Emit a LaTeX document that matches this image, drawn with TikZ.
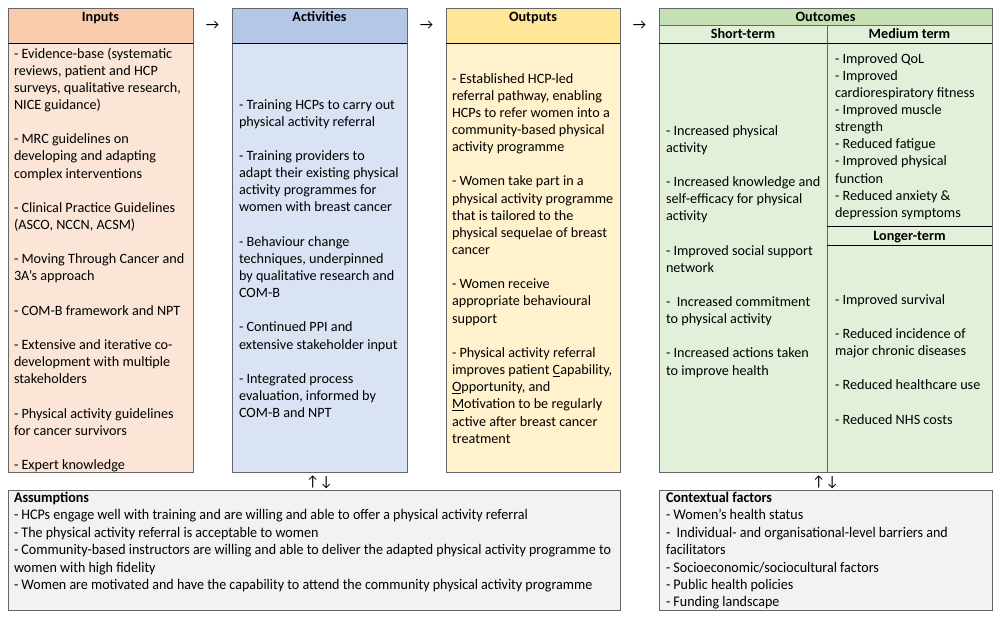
\documentclass[tikz,border=0pt]{standalone}
\usepackage{fontspec}
\setmainfont{Carlito}
\newfontfamily\narrowfont[FakeStretch=0.955]{Carlito}
\usetikzlibrary{positioning}

\definecolor{inhead}{HTML}{F8CBAD}
\definecolor{inbody}{HTML}{FBE5D6}
\definecolor{acthead}{HTML}{B4C7E7}
\definecolor{actbody}{HTML}{DAE3F3}
\definecolor{outhead}{HTML}{FFE699}
\definecolor{outbody}{HTML}{FFF2CC}
\definecolor{ochead}{HTML}{C5E0B4}
\definecolor{ocbody}{HTML}{E2F0D9}
\definecolor{assume}{HTML}{F2F2F2}
\definecolor{boxline}{HTML}{666666}

\newcommand{\gap}{\\[\baselineskip]}

\begin{document}
\begin{tikzpicture}[%
        x=1pt, y=-1pt,
        every node/.style={inner sep=0pt, outer sep=0pt},
        cell/.style={rectangle, draw=boxline, line width=0.8pt, anchor=north west},
        divider/.style={draw=black, line width=0.8pt},
        headtext/.style={anchor=base, font=\bfseries\fontsize{14.2}{17.15}\selectfont},
        bodytext/.style={anchor=north west, align=left, font=\fontsize{14.2}{17.15}\selectfont},
        notetext/.style={anchor=north west, align=left, font=\narrowfont\fontsize{14.7}{17.45}\selectfont},
        sign/.style={anchor=base, font=\fontsize{14.7}{17.15}\selectfont}
      ]
      \useasboundingbox (0,0) rectangle (1000,619);
      % column boxes
      \node [cell, fill=inhead, minimum width=185pt, minimum height=35pt] (inhd) at (8,8) {};
      \node [cell, fill=inbody, minimum width=185pt, minimum height=429pt, below=0pt of inhd] (inbd) {};
      \node [cell, fill=acthead, minimum width=175pt, minimum height=35pt] (acthd) at (232,8) {};
      \node [cell, fill=actbody, minimum width=175pt, minimum height=429pt, below=0pt of acthd] (actbd) {};
      \node [cell, fill=outhead, minimum width=174pt, minimum height=35pt] (outhd) at (446,8) {};
      \node [cell, fill=outbody, minimum width=174pt, minimum height=429pt, below=0pt of outhd] (outbd) {};
      % outcomes table
      \node [cell, fill=ochead, minimum width=333pt, minimum height=17pt] (ochd) at (659,8) {};
      \node [cell, fill=ocbody, minimum width=168pt, minimum height=18pt] (shorthd) at (659,25) {};
      \node [cell, fill=ocbody, minimum width=165pt, minimum height=18pt] (medhd) at (827,25) {};
      \node [cell, fill=ocbody, minimum width=168pt, minimum height=429pt] (shortbd) at (659,43) {};
      \node [cell, fill=ocbody, minimum width=165pt, minimum height=183pt] (medbd) at (827,43) {};
      \node [cell, fill=ocbody, minimum width=165pt, minimum height=19pt] (longhd) at (827,226) {};
      \node [cell, fill=ocbody, minimum width=165pt, minimum height=227pt] (longbd) at (827,245) {};
      % bottom boxes
      \node [cell, fill=assume, minimum width=612pt, minimum height=120pt] (assm) at (8,490) {};
      \node [cell, fill=assume, minimum width=333pt, minimum height=120pt] (ctx) at (659,490) {};
      \path [divider] (inhd.south west) -- (inhd.south east)
      (acthd.south west) -- (acthd.south east)
      (outhd.south west) -- (outhd.south east)
      (shorthd.south west) -- (medhd.south east)
      (longhd.north west) -- (longhd.north east)
      (longhd.south west) -- (longhd.south east);

      % headings
      \node [headtext] (intitle) at (100.5,21) {Inputs};
      \node [headtext] (acttitle) at (319.5,21) {Activities};
      \node [headtext] (outtitle) at (533,21) {Outputs};
      \node [headtext] (octitle) at (825.5,21) {Outcomes};
      \node [headtext] (shorttitle) at (743,38.5) {Short-term};
      \node [headtext] (medtitle) at (909.5,38.5) {Medium term};
      \node [headtext] (longtitle) at (909.5,240.5) {Longer-term};

      % arrows between columns
      \node [sign] (arr1) at (212.5,29) {→};
      \node [sign] (arr2) at (426.5,29) {→};
      \node [sign] (arr3) at (639.5,29) {→};
      \node [sign] (ud1) at (319.5,486) {↑↓};
      \node [sign] (ud2) at (825.5,486) {↑↓};

      % column texts
      \node [bodytext] (inlist) at (14,46) {\strut- Evidence-base (systematic\\
        reviews, patient and HCP\\
        surveys, qualitative research,\\
        NICE guidance)\gap
        - MRC guidelines on\\
        developing and adapting\\
        complex interventions\gap
        - Clinical Practice Guidelines\\
        (ASCO, NCCN, ACSM)\gap
        - Moving Through Cancer and\\
        3A’s approach\gap
        - COM-B framework and NPT\gap
        - Extensive and iterative co-\\
        development with multiple\\
        stakeholders\gap
        - Physical activity guidelines\\
        for cancer survivors\gap
        - Expert knowledge};
      \node [bodytext] (actlist) at (239,97) {\strut- Training HCPs to carry out\\
        physical activity referral\gap
        - Training providers to\\
        adapt their existing physical\\
        activity programmes for\\
        women with breast cancer\gap
        - Behaviour change\\
        techniques, underpinned\\
        by qualitative research and\\
        COM-B\gap
        - Continued PPI and\\
        extensive stakeholder input\gap
        - Integrated process\\
        evaluation, informed by\\
        COM-B and NPT};
      \node [bodytext] (outlist) at (452,71) {\strut- Established HCP-led\\
        referral pathway, enabling\\
        HCPs to refer women into a\\
        community-based physical\\
        activity programme\gap
        - Women take part in a\\
        physical activity programme\\
        that is tailored to the\\
        physical sequelae of breast\\
        cancer\gap
        - Women receive\\
        appropriate behavioural\\
        support\gap
        - Physical activity referral\\
        improves patient \underline{C}apability,\\
        \underline{O}pportunity, and\\
        \underline{M}otivation to be regularly\\
        active after breast cancer\\
        treatment};
      \node [bodytext] (shortlist) at (666,123) {\strut- Increased physical\\
        activity\gap
        - Increased knowledge and\\
        self-efficacy for physical\\
        activity\gap
        - Improved social support\\
        network\gap
        - \ Increased commitment\\
        to physical activity\gap
        - Increased actions taken\\
        to improve health};
      \node [bodytext] (medlist) at (835,51) {\strut- Improved QoL\\
        - Improved\\
        cardiorespiratory fitness\\
        - Improved muscle\\
        strength\\
        - Reduced fatigue\\
        - Improved physical\\
        function\\
        - Reduced anxiety \&\\
        depression symptoms};
      \node [bodytext] (longlist) at (835,292) {\strut- Improved survival\gap
        - Reduced incidence of\\
        major chronic diseases\gap
        - Reduced healthcare use\gap
        - Reduced NHS costs};

      % bottom texts
      \node [notetext] (assmlist) at (14,490) {\strut\textbf{Assumptions}\\
        - HCPs engage well with training and are willing and able to offer a physical activity referral\\
        - The physical activity referral is acceptable to women\\
        - Community-based instructors are willing and able to deliver the adapted physical activity programme to\\
        women with high fidelity\\
        - Women are motivated and have the capability to attend the community physical activity programme};
      \node [notetext] (ctxlist) at (666,490) {\strut\textbf{Contextual factors}\\
        - Women’s health status\\
        - \ Individual- and organisational-level barriers and\\
        facilitators\\
        - Socioeconomic/sociocultural factors\\
        - Public health policies\\
        - Funding landscape};
    \end{tikzpicture}
\end{document}
